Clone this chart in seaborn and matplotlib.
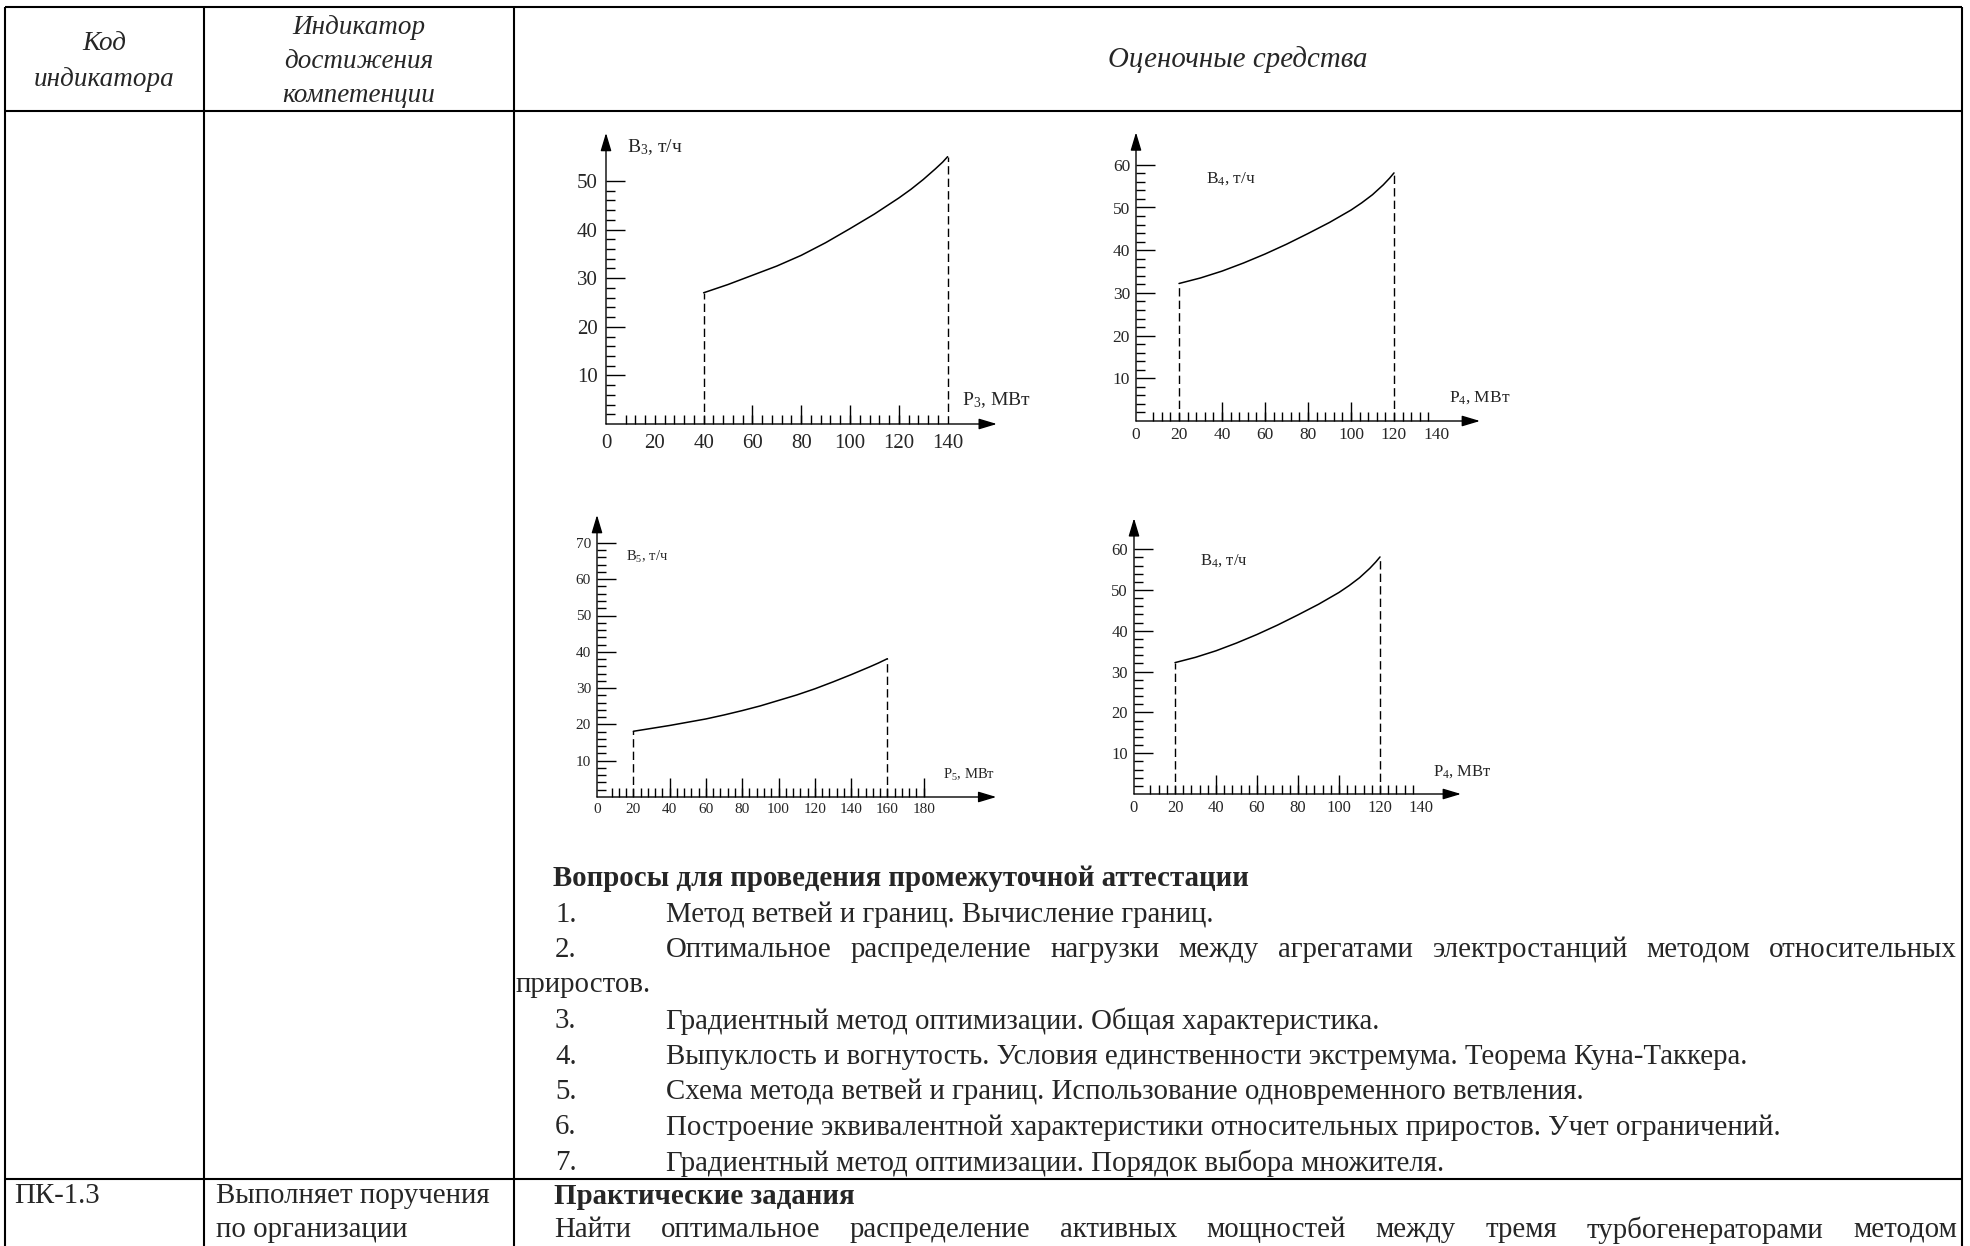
import numpy as np
import pandas as pd
import matplotlib
matplotlib.use("Agg")
import matplotlib.pyplot as plt
from matplotlib.ticker import FixedLocator
import seaborn as sns

W, H = 1970, 1246

# Характеристики расхода топлива
p3 = [40, 50, 60, 70, 80, 90, 100, 110, 120, 125, 130, 135, 138, 140]
b3 = [27.0, 28.7, 30.6, 32.5, 34.7, 37.3, 40.2, 43.2, 46.5, 48.3, 50.3, 52.5, 53.9, 55.0]

p4 = [20, 30, 40, 50, 60, 70, 80, 90, 100, 105, 110, 115, 118, 120]
b4 = [32.2, 33.5, 35.1, 37.0, 39.1, 41.4, 43.9, 46.5, 49.4, 51.1, 53.0, 55.3, 56.9, 58.1]

p5 = [20, 30, 40, 50, 60, 70, 80, 90, 100, 110, 120, 130, 140, 150, 155, 160]
b5 = [18.1, 18.9, 19.7, 20.6, 21.5, 22.6, 23.8, 25.1, 26.6, 28.1, 29.8, 31.7, 33.7, 35.8, 36.9, 38.1]

# подписи делений
xt_140 = [0, 20, 40, 60, 80, 100, 120, 140]
xt_180 = [0, 20, 40, 60, 80, 100, 120, 140, 160, 180]
yt_50 = [10, 20, 30, 40, 50]
yt_60 = [10, 20, 30, 40, 50, 60]
yt_70 = [10, 20, 30, 40, 50, 60, 70]

# длинные штрихи по оси X
long1 = [60, 80, 100, 120]
long2 = [40, 60, 80, 100]
long3 = [40, 60, 80, 100, 120, 140, 180]
long4 = [40, 60, 80, 100]

# текст таблицы
head_col1 = ["Код", "индикатора"]
head_col2 = ["Индикатор", "достижения", "компетенции"]
head_col3 = "Оценочные средства"
q_title = "Вопросы для проведения промежуточной аттестации"
questions = [
    "Метод ветвей и границ. Вычисление границ.",
    "Оптимальное распределение нагрузки между агрегатами электростанций методом относительных",
    "Градиентный метод оптимизации. Общая характеристика.",
    "Выпуклость и вогнутость. Условия единственности экстремума. Теорема Куна-Таккера.",
    "Схема метода ветвей и границ. Использование одновременного ветвления.",
    "Построение эквивалентной характеристики относительных приростов. Учет ограничений.",
    "Градиентный метод оптимизации. Порядок выбора множителя.",
]
q2_tail = "приростов."
code2 = "ПК-1.3"
ind2 = ["Выполняет поручения", "по организации"]
task_title = "Практические задания"
task_line = "Найти оптимальное распределение активных мощностей между тремя турбогенераторами методом"

sns.set_style("ticks")
plt.rcParams["font.family"] = ["Liberation Serif", "DejaVu Serif"]
plt.rcParams["mathtext.fontset"] = "custom"
plt.rcParams["mathtext.rm"] = "Liberation Serif"
plt.rcParams["mathtext.it"] = "Liberation Serif:italic"

fig = plt.figure(figsize=(W / 100, H / 100), dpi=100)

# фон-таблица в пиксельных координатах
bg = fig.add_axes([0, 0, 1, 1])
bg.set_xlim(0, W)
bg.set_ylim(H, 0)
bg.axis("off")

LW_T = 1.5
xl, xc1, xc2, xr = 5, 204, 514, 1962
for yy in [7, 111, 1179]:
    bg.hlines(yy, xl, xr, colors="black", linewidth=LW_T)
for xx in [xl, xc1, xc2, xr]:
    bg.vlines(xx, 7, H, colors="black", linewidth=LW_T)

FS = 20.8
FSH = 19.5
bg.text((xl + xc1) / 2, 44, head_col1[0], ha="center", va="center", fontsize=FSH, style="italic")
bg.text((xl + xc1) / 2, 79, head_col1[1], ha="center", va="center", fontsize=FSH, style="italic")
for i, s in enumerate(head_col2):
    bg.text((xc1 + xc2) / 2, 27 + 34 * i, s, ha="center", va="center", fontsize=FSH, style="italic")
bg.text((xc2 + xr) / 2, 60, head_col3, ha="center", va="center", fontsize=FS, style="italic")

renderer = fig.canvas.get_renderer()


def justify(line, x_left, x_right, y, **kw):
    words = line.split()
    texts = [bg.text(0, y, w, ha="left", va="center", **kw) for w in words]
    widths = [t.get_window_extent(renderer).width for t in texts]
    gap = (x_right - x_left - sum(widths)) / (len(words) - 1)
    x = x_left
    for t, w in zip(texts, widths):
        t.set_x(x)
        x += w + gap


y0, dy = 879, 35.5
bg.text(553, y0, q_title, ha="left", va="center", fontsize=FS, weight="bold")
row = 1
for i, q in enumerate(questions):
    y = y0 + dy * row
    bg.text(555, y, f"{i + 1}.", ha="left", va="center", fontsize=FS)
    if i == 1:
        justify(q, 666, 1957, y, fontsize=FS)
        row += 1
        bg.text(516, y0 + dy * row, q2_tail, ha="left", va="center", fontsize=FS)
    else:
        bg.text(666, y, q, ha="left", va="center", fontsize=FS)
    row += 1

bg.text(14, 1196, code2, ha="left", va="center", fontsize=FS)
bg.text(216, 1196, ind2[0], ha="left", va="center", fontsize=FS)
bg.text(216, 1230, ind2[1], ha="left", va="center", fontsize=FS)
bg.text(554, 1196, task_title, ha="left", va="center", fontsize=FS, weight="bold")
justify(task_line, 554, 1957, 1230, fontsize=FS)


def draw_chart(p, b, x0, y0, sx, sy, xend, yend, xt, yt, long_t, xminor_end,
               fs, lfs, xpad, ypad, blab, plab, bpos, ppos):
    ax = fig.add_axes([x0 / W, 1 - y0 / H, xend * sx / W, yend * sy / H])
    ax.set_facecolor("none")
    ax.set_xlim(0, xend)
    ax.set_ylim(0, yend)
    for s in ax.spines.values():
        s.set_visible(False)

    df = pd.DataFrame({"P": p, "B": b})
    sns.lineplot(data=df, x="P", y="B", ax=ax, color="black", linewidth=1.1, estimator=None)
    ax.vlines([p[0], p[-1]], 0, [b[0], b[-1]], colors="black", linewidth=1.0,
              linestyles=(0, (6, 3)))
    ax.vlines(long_t, 0, 19 / sy, colors="black", linewidth=1.0)

    # оси со стрелками
    arrow = dict(arrowstyle="-|>,head_length=1.1,head_width=0.33", color="black",
                 lw=1.0, shrinkA=0, shrinkB=0, mutation_scale=10)
    ax.annotate("", xy=(xend, 0), xytext=(0, 0), arrowprops=arrow, annotation_clip=False)
    ax.annotate("", xy=(0, yend), xytext=(0, 0), arrowprops=arrow, annotation_clip=False)

    ax.set_xticks(xt)
    ax.set_xticklabels([str(v) for v in xt])
    ax.set_yticks(yt)
    ax.set_yticklabels([str(v) for v in yt])
    ax.xaxis.set_minor_locator(FixedLocator(np.arange(8, xminor_end + 1, 4)))
    ax.yaxis.set_minor_locator(FixedLocator(np.arange(2, yt[-1] + 1, 2)))
    ax.xaxis.remove_overlapping_locs = False
    ax.tick_params(axis="x", which="both", bottom=True, top=False)
    ax.tick_params(axis="y", which="both", left=True, right=False)
    ax.tick_params(axis="x", which="major", length=0, pad=xpad, labelsize=fs)
    ax.tick_params(axis="x", which="minor", direction="in", length=6.5, width=1.0, color="black")
    ax.tick_params(axis="y", which="major", direction="in", length=13.7, width=1.0,
                   pad=ypad, labelsize=fs, color="black")
    ax.tick_params(axis="y", which="minor", direction="in", length=6.5, width=1.0, color="black")
    ax.set_xlabel("")
    ax.set_ylabel("")
    ax.text(bpos[0], bpos[1], blab, ha="left", va="center", fontsize=lfs)
    ax.text(ppos[0], ppos[1], plab, ha="left", va="center", fontsize=lfs)


draw_chart(p3, b3, 606, 424, 2.44, 4.86, 160.2, 59.9, xt_140, yt_50, long1, 136,
           15, 14, 7, 5.8, r"B$_3$, т/ч", r"P$_3$, МВт", (8.6, 57), (145.9, 4.9))
draw_chart(p4, b4, 1136, 421, 2.15, 4.27, 160, 67.6, xt_140, yt_60, long2, 136,
           12.5, 12.5, 4, 4.3, r"B$_4$, т/ч", r"P$_4$, МВт", (32.6, 56.8), (145.6, 5.55))
draw_chart(p5, b5, 597, 797, 1.815, 3.63, 220, 77.7, xt_180, yt_70, long3, 180,
           11, 10.5, 4, 4.3, r"B$_5$, т/ч", r"P$_5$, МВт", (16, 66.1), (190.6, 6.06))
draw_chart(p4, b4, 1134, 794, 2.05, 4.08, 159.5, 67.6, xt_140, yt_60, long4, 136,
           12, 12, 4.5, 4.3, r"B$_4$, т/ч", r"P$_4$, МВт", (32.2, 57.1), (145.9, 5.4))

fig.savefig("out.png", dpi=100, facecolor="white")
